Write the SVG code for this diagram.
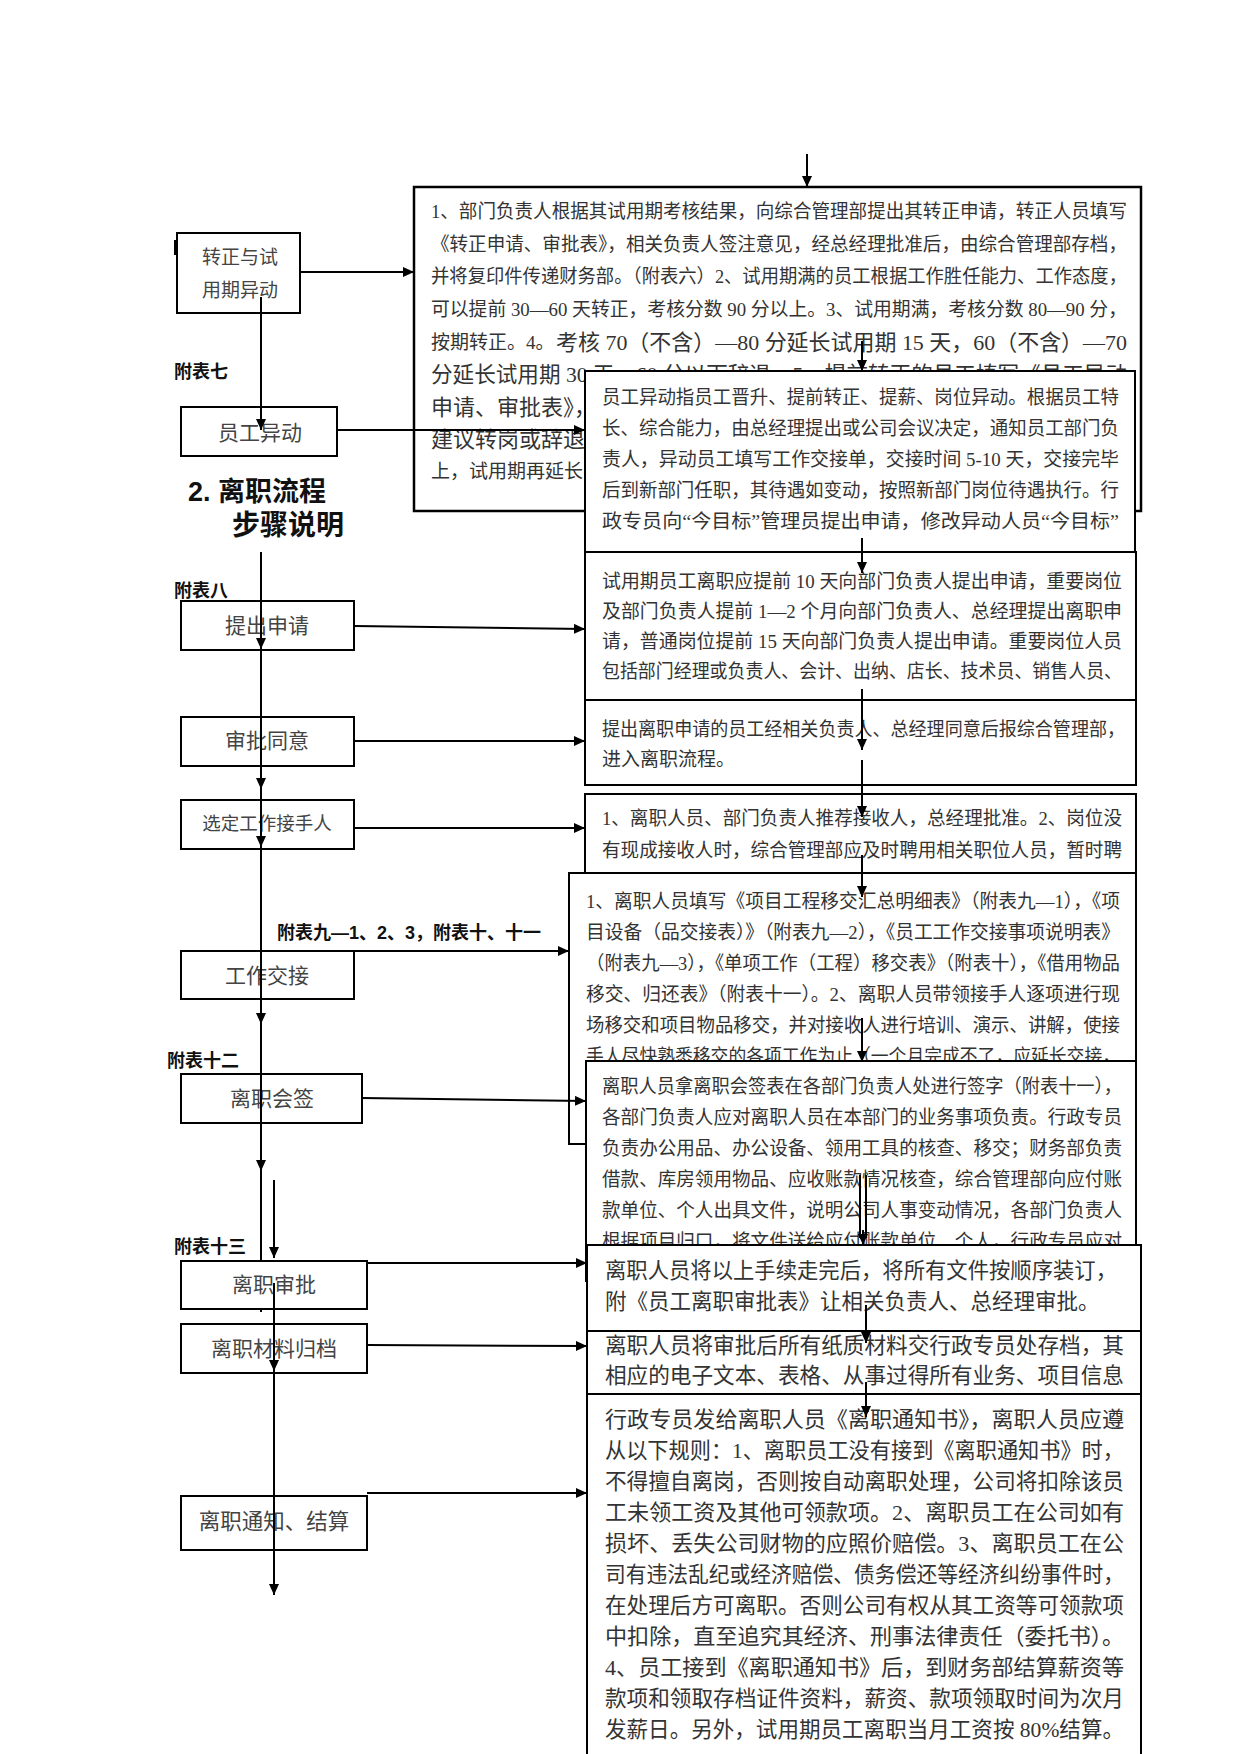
<svg xmlns="http://www.w3.org/2000/svg" width="1241" height="1754" viewBox="0 0 1241 1754">
<style>
.bx{fill:#fff;stroke:#000;stroke-width:2}
.ln{fill:none;stroke:#000;stroke-width:2}
.t19{font-family:"Liberation Serif","Noto Sans CJK SC",serif;font-size:19px;fill:#333;dominant-baseline:central}
.t22{font-family:"Liberation Serif","Noto Sans CJK SC",serif;font-size:22px;fill:#333;dominant-baseline:central}
.lb{font-family:"Liberation Serif","Noto Sans CJK SC",serif;font-size:21px;fill:#444;text-anchor:middle;dominant-baseline:central}
.fb{font-family:"Liberation Sans","Noto Sans CJK SC",sans-serif;font-size:18px;font-weight:bold;fill:#111;dominant-baseline:central}
.hd{font-family:"Liberation Sans","Noto Sans CJK SC",sans-serif;font-size:27px;font-weight:bold;fill:#111;dominant-baseline:central}
</style>
<defs>
<marker id="ah" viewBox="0 0 11 10" refX="11" refY="5" markerWidth="11" markerHeight="10" markerUnits="userSpaceOnUse" orient="auto"><path d="M0,0 L11,5 L0,10 z" fill="#000"/></marker>
</defs>

<g id="label-texts">
<rect x="174" y="240" width="3" height="15" fill="#000"/>
<text class="fb" x="174" y="372">附表七</text>
<text class="hd" x="188" y="492">2. 离职流程</text>
<text class="hd" x="232" y="525" style="font-size:28px">步骤说明</text>
<text class="fb" x="174" y="591">附表八</text>
<text class="fb" x="277" y="933">附表九—1、2、3，附表十、十一</text>
<text class="fb" x="167" y="1061">附表十二</text>
<text class="fb" x="174" y="1247">附表十三</text>
</g>

<g id="node-main">
<rect class="bx" x="414" y="187" width="727" height="324" style="stroke-width:2.5"/>
<text class="t19" x="431" y="211" textLength="696" lengthAdjust="spacingAndGlyphs">1、部门负责人根据其试用期考核结果，向综合管理部提出其转正申请，转正人员填写</text>
<text class="t19" x="431" y="244" textLength="696" lengthAdjust="spacingAndGlyphs">《转正申请、审批表》，相关负责人签注意见，经总经理批准后，由综合管理部存档，</text>
<text class="t19" x="431" y="276" textLength="696" lengthAdjust="spacingAndGlyphs">并将复印件传递财务部。（附表六）2、试用期满的员工根据工作胜任能力、工作态度，</text>
<text class="t19" x="431" y="309" textLength="696" lengthAdjust="spacingAndGlyphs">可以提前 30—60 天转正，考核分数 90 分以上。3、试用期满，考核分数 80—90 分，</text>
<text class="t19" x="431" y="342">按期转正。4。</text>
<text class="t22" x="556" y="342" textLength="571" lengthAdjust="spacingAndGlyphs">考核 70（不含）—80 分延长试用期 15 天，60（不含）—70</text>
<text class="t22" x="431" y="374" textLength="696" lengthAdjust="spacingAndGlyphs">分延长试用期 30 天，60 分以下辞退。5、提前转正的员工填写《员工异动</text>
<text class="t22" x="431" y="407">申请、审批表》，</text>
<text class="t22" x="431" y="439">建议转岗或辞退</text>
<text class="t19" x="431" y="471">上，试用期再延长</text>
</g>

<g id="connectors-top">
<line class="ln" x1="807" y1="154" x2="807" y2="187" marker-end="url(#ah)"/>
<line class="ln" x1="300" y1="272" x2="414" y2="272" marker-end="url(#ah)"/>
<line class="ln" x1="862" y1="341" x2="862" y2="371" marker-end="url(#ah)"/>
</g>

<g id="node-change">
<rect class="bx" x="585" y="371" width="550" height="181"/>
<text class="t19" x="602" y="397" textLength="517" lengthAdjust="spacingAndGlyphs">员工异动指员工晋升、提前转正、提薪、岗位异动。根据员工特</text>
<text class="t19" x="602" y="428" textLength="517" lengthAdjust="spacingAndGlyphs">长、综合能力，由总经理提出或公司会议决定，通知员工部门负</text>
<text class="t19" x="602" y="459" textLength="517" lengthAdjust="spacingAndGlyphs">责人，异动员工填写工作交接单，交接时间 5-10 天，交接完毕</text>
<text class="t19" x="602" y="490" textLength="517" lengthAdjust="spacingAndGlyphs">后到新部门任职，其待遇如变动，按照新部门岗位待遇执行。行</text>
<text class="t19" x="602" y="521" textLength="517" lengthAdjust="spacingAndGlyphs">政专员向“今目标”管理员提出申请，修改异动人员“今目标”</text>
</g>

<g id="node-apply-desc">
<rect class="bx" x="585" y="552" width="551" height="170"/>
<text class="t19" x="602" y="581" textLength="520" lengthAdjust="spacingAndGlyphs">试用期员工离职应提前 10 天向部门负责人提出申请，重要岗位</text>
<text class="t19" x="602" y="611" textLength="520" lengthAdjust="spacingAndGlyphs">及部门负责人提前 1—2 个月向部门负责人、总经理提出离职申</text>
<text class="t19" x="602" y="641" textLength="520" lengthAdjust="spacingAndGlyphs">请，普通岗位提前 15 天向部门负责人提出申请。重要岗位人员</text>
<text class="t19" x="602" y="671" textLength="520" lengthAdjust="spacingAndGlyphs">包括部门经理或负责人、会计、出纳、店长、技术员、销售人员、</text>
</g>

<g id="node-approve-desc">
<rect class="bx" x="585" y="700" width="551" height="85"/>
<text class="t19" x="602" y="729" textLength="523" lengthAdjust="spacingAndGlyphs">提出离职申请的员工经相关负责人、总经理同意后报综合管理部，</text>
<text class="t19" x="602" y="759">进入离职流程。</text>
</g>

<g id="node-select-desc">
<rect class="bx" x="585" y="794" width="551" height="79"/>
<text class="t19" x="602" y="818" textLength="520" lengthAdjust="spacingAndGlyphs">1、离职人员、部门负责人推荐接收人，总经理批准。2、岗位没</text>
<text class="t19" x="602" y="850" textLength="520" lengthAdjust="spacingAndGlyphs">有现成接收人时，综合管理部应及时聘用相关职位人员，暂时聘</text>
</g>

<g id="node-handover-desc">
<rect class="bx" x="569" y="873" width="567" height="271"/>
<text class="t19" x="586" y="901" textLength="534" lengthAdjust="spacingAndGlyphs">1、离职人员填写《项目工程移交汇总明细表》（附表九—1），《项</text>
<text class="t19" x="586" y="932" textLength="534" lengthAdjust="spacingAndGlyphs">目设备（品交接表）》（附表九—2），《员工工作交接事项说明表》</text>
<text class="t19" x="586" y="963" textLength="534" lengthAdjust="spacingAndGlyphs">（附表九—3），《单项工作（工程）移交表》（附表十），《借用物品</text>
<text class="t19" x="586" y="994" textLength="534" lengthAdjust="spacingAndGlyphs">移交、归还表》（附表十一）。2、离职人员带领接手人逐项进行现</text>
<text class="t19" x="586" y="1025" textLength="534" lengthAdjust="spacingAndGlyphs">场移交和项目物品移交，并对接收人进行培训、演示、讲解，使接</text>
<text class="t19" x="586" y="1056" textLength="534" lengthAdjust="spacingAndGlyphs">手人尽快熟悉移交的各项工作为止（一个月完成不了，应延长交接，</text>
</g>

<g id="connectors-right-mid">
<line class="ln" x1="862" y1="538" x2="862" y2="573" marker-end="url(#ah)"/>
<line class="ln" x1="862" y1="689" x2="862" y2="750" marker-end="url(#ah)"/>
<line class="ln" x1="862" y1="760" x2="862" y2="817" marker-end="url(#ah)"/>
<line class="ln" x1="862" y1="855" x2="862" y2="897" marker-end="url(#ah)"/>
<line class="ln" x1="862" y1="1018" x2="862" y2="1062" marker-end="url(#ah)"/>
</g>

<g id="node-sign-desc">
<rect class="bx" x="586" y="1061" width="550" height="220"/>
<text class="t19" x="602" y="1086" textLength="520" lengthAdjust="spacingAndGlyphs">离职人员拿离职会签表在各部门负责人处进行签字（附表十一），</text>
<text class="t19" x="602" y="1117" textLength="520" lengthAdjust="spacingAndGlyphs">各部门负责人应对离职人员在本部门的业务事项负责。行政专员</text>
<text class="t19" x="602" y="1148" textLength="520" lengthAdjust="spacingAndGlyphs">负责办公用品、办公设备、领用工具的核查、移交；财务部负责</text>
<text class="t19" x="602" y="1179" textLength="520" lengthAdjust="spacingAndGlyphs">借款、库房领用物品、应收账款情况核查，综合管理部向应付账</text>
<text class="t19" x="602" y="1210" textLength="520" lengthAdjust="spacingAndGlyphs">款单位、个人出具文件，说明公司人事变动情况，各部门负责人</text>
<text class="t19" x="602" y="1241" textLength="520" lengthAdjust="spacingAndGlyphs">根据项目归口，将文件送给应付账款单位、个人，行政专员应对</text>
</g>

<g id="connector-double">
<line class="ln" x1="860" y1="1175" x2="860" y2="1238"/>
<line class="ln" x1="866" y1="1175" x2="866" y2="1238"/>
<line class="ln" x1="863" y1="1230" x2="863" y2="1245" marker-end="url(#ah)"/>
</g>

<g id="node-review-desc">
<rect class="bx" x="587" y="1245" width="554" height="86"/>
<text class="t22" x="605" y="1271" textLength="512" lengthAdjust="spacingAndGlyphs" style="font-size:21.5px">离职人员将以上手续走完后，将所有文件按顺序装订，</text>
<text class="t22" x="605" y="1302" style="font-size:21.5px">附《员工离职审批表》让相关负责人、总经理审批。</text>
</g>

<g id="node-archive-desc">
<rect class="bx" x="587" y="1331" width="554" height="63"/>
<text class="t22" x="605" y="1345" textLength="519" lengthAdjust="spacingAndGlyphs">离职人员将审批后所有纸质材料交行政专员处存档，其</text>
<text class="t22" x="605" y="1375" textLength="519" lengthAdjust="spacingAndGlyphs">相应的电子文本、表格、从事过得所有业务、项目信息</text>
</g>

<g id="node-notice-desc">
<rect class="bx" x="587" y="1394" width="554" height="420"/>
<text class="t22" x="605" y="1419" textLength="519" lengthAdjust="spacingAndGlyphs">行政专员发给离职人员《离职通知书》，离职人员应遵</text>
<text class="t22" x="605" y="1450" textLength="519" lengthAdjust="spacingAndGlyphs">从以下规则：1、离职员工没有接到《离职通知书》时，</text>
<text class="t22" x="605" y="1481" textLength="519" lengthAdjust="spacingAndGlyphs">不得擅自离岗，否则按自动离职处理，公司将扣除该员</text>
<text class="t22" x="605" y="1512" textLength="519" lengthAdjust="spacingAndGlyphs">工未领工资及其他可领款项。2、离职员工在公司如有</text>
<text class="t22" x="605" y="1543" textLength="519" lengthAdjust="spacingAndGlyphs">损坏、丢失公司财物的应照价赔偿。3、离职员工在公</text>
<text class="t22" x="605" y="1574" textLength="519" lengthAdjust="spacingAndGlyphs">司有违法乱纪或经济赔偿、债务偿还等经济纠纷事件时，</text>
<text class="t22" x="605" y="1605" textLength="519" lengthAdjust="spacingAndGlyphs">在处理后方可离职。否则公司有权从其工资等可领款项</text>
<text class="t22" x="605" y="1636" textLength="519" lengthAdjust="spacingAndGlyphs">中扣除，直至追究其经济、刑事法律责任（委托书）。</text>
<text class="t22" x="605" y="1667" textLength="519" lengthAdjust="spacingAndGlyphs">4、员工接到《离职通知书》后，到财务部结算薪资等</text>
<text class="t22" x="605" y="1698" textLength="519" lengthAdjust="spacingAndGlyphs">款项和领取存档证件资料，薪资、款项领取时间为次月</text>
<text class="t22" x="605" y="1729" textLength="519" lengthAdjust="spacingAndGlyphs">发薪日。另外，试用期员工离职当月工资按 80%结算。</text>
</g>

<g id="connectors-right-low">
<line class="ln" x1="866" y1="1305" x2="866" y2="1343" marker-end="url(#ah)"/>
<line class="ln" x1="866" y1="1382" x2="866" y2="1417" marker-end="url(#ah)"/>
</g>

<g id="node-regular">
<rect class="bx" x="177" y="233" width="123" height="80"/>
<text class="lb" x="240" y="257" style="font-size:19px">转正与试</text>
<text class="lb" x="240" y="290" style="font-size:19px">用期异动</text>
</g>
<g id="node-transfer">
<rect class="bx" x="181" y="407" width="156" height="49"/>
<text class="lb" x="260" y="433">员工异动</text>
</g>
<g id="node-apply">
<rect class="bx" x="181" y="601" width="173" height="49"/>
<text class="lb" x="267" y="626">提出申请</text>
</g>
<g id="node-approve">
<rect class="bx" x="181" y="717" width="173" height="49"/>
<text class="lb" x="267" y="741">审批同意</text>
</g>
<g id="node-select">
<rect class="bx" x="181" y="800" width="173" height="49"/>
<text class="lb" x="267" y="824" style="font-size:18.5px">选定工作接手人</text>
</g>
<g id="node-handover">
<rect class="bx" x="181" y="951" width="173" height="48"/>
<text class="lb" x="267" y="976">工作交接</text>
</g>
<g id="node-sign">
<rect class="bx" x="181" y="1074" width="181" height="49"/>
<text class="lb" x="272" y="1099">离职会签</text>
</g>

<g id="connectors-left">
<line class="ln" x1="261" y1="297" x2="261" y2="430" marker-end="url(#ah)"/>
<line class="ln" x1="337" y1="430" x2="585" y2="430" marker-end="url(#ah)"/>
<line class="ln" x1="261" y1="552" x2="261" y2="649" marker-end="url(#ah)"/>
<line class="ln" x1="261" y1="649" x2="261" y2="789" marker-end="url(#ah)"/>
<line class="ln" x1="261" y1="789" x2="261" y2="847" marker-end="url(#ah)"/>
<line class="ln" x1="261" y1="847" x2="261" y2="1024" marker-end="url(#ah)"/>
<line class="ln" x1="261" y1="1024" x2="261" y2="1171" marker-end="url(#ah)"/>
<line class="ln" x1="261" y1="1171" x2="261" y2="1312"/>
<line class="ln" x1="354" y1="626" x2="585" y2="629" marker-end="url(#ah)"/>
<line class="ln" x1="354" y1="741" x2="585" y2="741" marker-end="url(#ah)"/>
<line class="ln" x1="354" y1="828" x2="585" y2="828" marker-end="url(#ah)"/>
<line class="ln" x1="354" y1="951" x2="569" y2="951" marker-end="url(#ah)"/>
<line class="ln" x1="362" y1="1098" x2="586" y2="1101" marker-end="url(#ah)"/>
<line class="ln" x1="367" y1="1263" x2="587" y2="1263" marker-end="url(#ah)"/>
<line class="ln" x1="367" y1="1345" x2="587" y2="1346" marker-end="url(#ah)"/>
<line class="ln" x1="367" y1="1493" x2="587" y2="1493" marker-end="url(#ah)"/>
</g>

<g id="node-review">
<rect class="bx" x="181" y="1261" width="186" height="48"/>
<text class="lb" x="274" y="1285">离职审批</text>
</g>
<g id="node-archive">
<rect class="bx" x="181" y="1324" width="186" height="49"/>
<text class="lb" x="274" y="1349">离职材料归档</text>
</g>
<g id="node-notice">
<rect class="bx" x="181" y="1496" width="186" height="54"/>
<text class="lb" x="274" y="1522" style="font-size:21.5px">离职通知、结算</text>
</g>

<g id="connectors-left-low">
<line class="ln" x1="274" y1="1180" x2="274" y2="1258" marker-end="url(#ah)"/>
<line class="ln" x1="274" y1="1283" x2="274" y2="1371" marker-end="url(#ah)"/>
<line class="ln" x1="274" y1="1371" x2="274" y2="1595" marker-end="url(#ah)"/>
</g>
</svg>
